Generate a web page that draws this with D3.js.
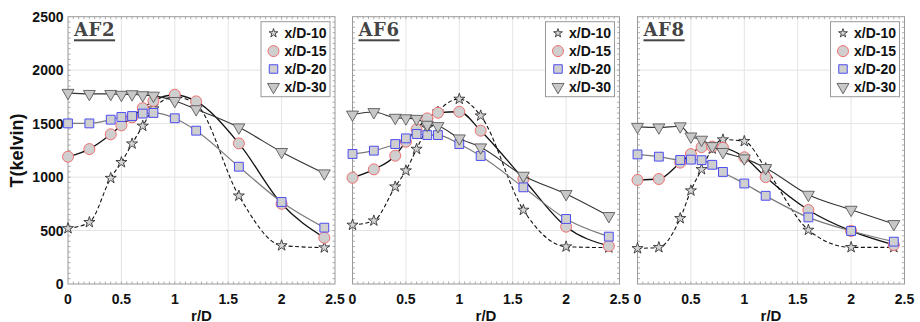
<!DOCTYPE html>
<html>
<head>
<meta charset="utf-8">
<script src="https://cdn.jsdelivr.net/npm/d3@7"></script>
<style>
    body { margin: 0; background: #fff; }
    svg { display: block; font-family: "Liberation Sans", Arial, sans-serif; }
    .tick-label { font-size: 14px; font-weight: bold; fill: #111; }
    .axis-title { font-weight: bold; fill: #111; }
    .panel-name { font-family: "DejaVu Serif", serif; font-weight: bold; font-size: 18px; fill: #444; letter-spacing: 0.6px; }
    .legend-text { font-size: 14px; font-weight: bold; fill: #111; }
</style>
</head>
<body>
<svg width="920" height="322"></svg>
<script>
const width = 920, height = 322;
const svg = d3.select("svg");

// radial positions (r/D) where temperatures were measured
const rD = [0, 0.2, 0.4, 0.5, 0.6, 0.7, 0.8, 1.0, 1.2, 1.6, 2.0, 2.4];

const panelNames = ["AF2", "AF6", "AF8"];
const seriesNames = ["x/D-10", "x/D-15", "x/D-20", "x/D-30"];
const xTicks = [0, 0.5, 1, 1.5, 2, 2.5];
const yTicks = [0, 500, 1000, 1500, 2000, 2500];

// T (kelvin), one array per panel and axial station
const af2D10 = [520, 577, 990, 1138, 1312, 1478, 1640, 1750, 1680, 825, 360, 340];
const af2D15 = [1190, 1262, 1400, 1484, 1559, 1645, 1712, 1770, 1708, 1315, 750, 433];
const af2D20 = [1502, 1502, 1537, 1562, 1571, 1594, 1600, 1550, 1434, 1097, 767, 527];
const af2D30 = [1788, 1778, 1778, 1770, 1775, 1766, 1762, 1712, 1635, 1465, 1235, 1035];

const af6D10 = [552, 592, 910, 1060, 1262, 1462, 1610, 1730, 1574, 692, 349, 340];
const af6D15 = [994, 1072, 1200, 1331, 1446, 1549, 1602, 1611, 1434, 982, 536, 355];
const af6D20 = [1216, 1247, 1309, 1362, 1403, 1393, 1393, 1309, 1197, 904, 608, 443];
const af6D30 = [1585, 1608, 1555, 1550, 1545, 1490, 1477, 1362, 1278, 1013, 842, 636];

const af8D10 = [333, 343, 614, 873, 1072, 1265, 1350, 1335, 1082, 505, 343, 343];
const af8D15 = [973, 982, 1135, 1215, 1280, 1285, 1275, 1185, 1000, 692, 496, 365];
const af8D20 = [1212, 1191, 1160, 1163, 1158, 1115, 1048, 940, 825, 623, 496, 396];
const af8D30 = [1470, 1465, 1475, 1380, 1350, 1290, 1235, 1175, 1085, 835, 695, 561];

const panelData = [
    [af2D10, af2D15, af2D20, af2D30],
    [af6D10, af6D15, af6D20, af6D30],
    [af8D10, af8D15, af8D20, af8D30]
];

// styling for each series: marker, marker colours, line
const styles = [
    { symbol: d3.symbolStar, size: 38, legendSize: 24, rotate: 0, fill: "#d4d4d4", stroke: "#222", sw: 0.8, line: "#111", lw: 1.1, dash: "4,2.5" },
    { symbol: d3.symbolCircle, size: 95, legendSize: 95, rotate: 0, fill: "#cfcfcf", stroke: "#f07070", sw: 1, line: "#111", lw: 1.3, dash: null },
    { symbol: d3.symbolSquare, size: 78, legendSize: 72, rotate: 0, fill: "#cfcfcf", stroke: "#4c4cf2", sw: 1, line: "#7a7a7a", lw: 1.2, dash: null },
    { symbol: d3.symbolTriangle, size: 62, legendSize: 62, rotate: 180, fill: "#c8c8c8", stroke: "#5a5a5a", sw: 0.9, line: "#333", lw: 1.1, dash: null }
];

const panelLeft = [68, 352.5, 637.5];
const panelWidth = 267;
const plotTop = 16.7, plotBottom = 284;

const y = d3.scaleLinear().domain([0, 2500]).range([plotBottom, plotTop]);

panelNames.forEach((name, i) => drawPanel(name, i));
drawAxisTitles();

function drawPanel(name, i) {
    const x = d3.scaleLinear().domain([0, 2.5]).range([panelLeft[i], panelLeft[i] + panelWidth]);
    const g = svg.append("g");

    // grid lines
    g.selectAll(".vgrid").data(xTicks.slice(1, -1)).join("line")
        .attr("x1", d => x(d)).attr("x2", d => x(d))
        .attr("y1", plotTop).attr("y2", plotBottom)
        .attr("stroke", "#e4e4e4").attr("stroke-width", 1);
    g.selectAll(".hgrid").data(yTicks.slice(1, -1)).join("line")
        .attr("x1", x(0)).attr("x2", x(2.5))
        .attr("y1", d => y(d)).attr("y2", d => y(d))
        .attr("stroke", "#e4e4e4").attr("stroke-width", 1);

    // small inward ticks round the frame
    const minorX = d3.range(1, 50).map(k => k * 0.05);
    const minorY = d3.range(1, 50).map(k => k * 50);
    [plotTop, plotBottom].forEach((yy, s) => {
        g.selectAll(null).data(minorX).join("line")
            .attr("x1", d => x(d)).attr("x2", d => x(d))
            .attr("y1", yy).attr("y2", s === 0 ? yy + 2.5 : yy - 2.5)
            .attr("stroke", "#9a9a9a").attr("stroke-width", 0.8);
    });
    [x(0), x(2.5)].forEach((xx, s) => {
        g.selectAll(null).data(minorY).join("line")
            .attr("y1", d => y(d)).attr("y2", d => y(d))
            .attr("x1", xx).attr("x2", s === 0 ? xx + 2.5 : xx - 2.5)
            .attr("stroke", "#9a9a9a").attr("stroke-width", 0.8);
    });

    g.append("rect")
        .attr("x", x(0)).attr("y", plotTop)
        .attr("width", panelWidth).attr("height", plotBottom - plotTop)
        .attr("fill", "none").attr("stroke", "#9a9a9a").attr("stroke-width", 1);

    // x tick labels
    g.selectAll(".xlab").data(xTicks).join("text")
        .attr("class", "tick-label")
        .attr("x", d => x(d)).attr("y", 303.5)
        .attr("text-anchor", "middle")
        .text(d => d);

    // y tick labels only on first panel
    if (i === 0) {
        g.selectAll(".ylab").data(yTicks).join("text")
            .attr("class", "tick-label")
            .attr("x", x(0) - 4.5).attr("y", d => y(d) + 5)
            .attr("text-anchor", "end")
            .text(d => d);
    }

    // x axis title
    g.append("text").attr("class", "axis-title")
        .attr("x", x(1.25)).attr("y", 320.5)
        .attr("text-anchor", "middle").style("font-size", "15px")
        .text("r/D");

    // curves + markers
    const line = d3.line().x((d, k) => x(rD[k])).y(d => y(d)).curve(d3.curveMonotoneX);
    panelData[i].forEach((vals, s) => {
        const st = styles[s];
        g.append("path")
            .attr("d", line(vals))
            .attr("fill", "none")
            .attr("stroke", st.line).attr("stroke-width", st.lw)
            .attr("stroke-dasharray", st.dash);
        g.selectAll(null).data(vals).join("path")
            .attr("d", d3.symbol(st.symbol, st.size))
            .attr("transform", (d, k) => `translate(${x(rD[k])},${y(d)}) rotate(${st.rotate})`)
            .attr("fill", st.fill).attr("stroke", st.stroke).attr("stroke-width", st.sw);
    });

    // panel name, underlined
    const label = g.append("text").attr("class", "panel-name")
        .attr("x", x(0) + 6).attr("y", 36)
        .text(name);
    const bw = label.node().getComputedTextLength();
    g.append("rect")
        .attr("x", x(0) + 6).attr("y", 39.3)
        .attr("width", bw).attr("height", 2)
        .attr("fill", "#444");

    drawLegend(g, x(2.5) - 74, plotTop + 5);
}

function drawLegend(g, lx, ly) {
    const lg = g.append("g").attr("transform", `translate(${lx},${ly})`);
    lg.append("rect")
        .attr("width", 69).attr("height", 75)
        .attr("fill", "#fff").attr("stroke", "#9a9a9a").attr("stroke-width", 1);
    seriesNames.forEach((s, k) => {
        const st = styles[k];
        const cy = 11.5 + k * 17.9;
        lg.append("path")
            .attr("d", d3.symbol(st.symbol, st.legendSize))
            .attr("transform", `translate(12.5,${cy}) rotate(${st.rotate})`)
            .attr("fill", st.fill).attr("stroke", st.stroke).attr("stroke-width", st.sw);
        lg.append("text").attr("class", "legend-text")
            .attr("x", 23.5).attr("y", cy + 5)
            .text(s);
    });
}

function drawAxisTitles() {
    svg.append("text").attr("class", "axis-title")
        .attr("transform", `translate(23,${150.5}) rotate(-90)`)
        .attr("text-anchor", "middle").style("font-size", "18px")
        .text("T(kelvin)");
}
</script>
</body>
</html>
